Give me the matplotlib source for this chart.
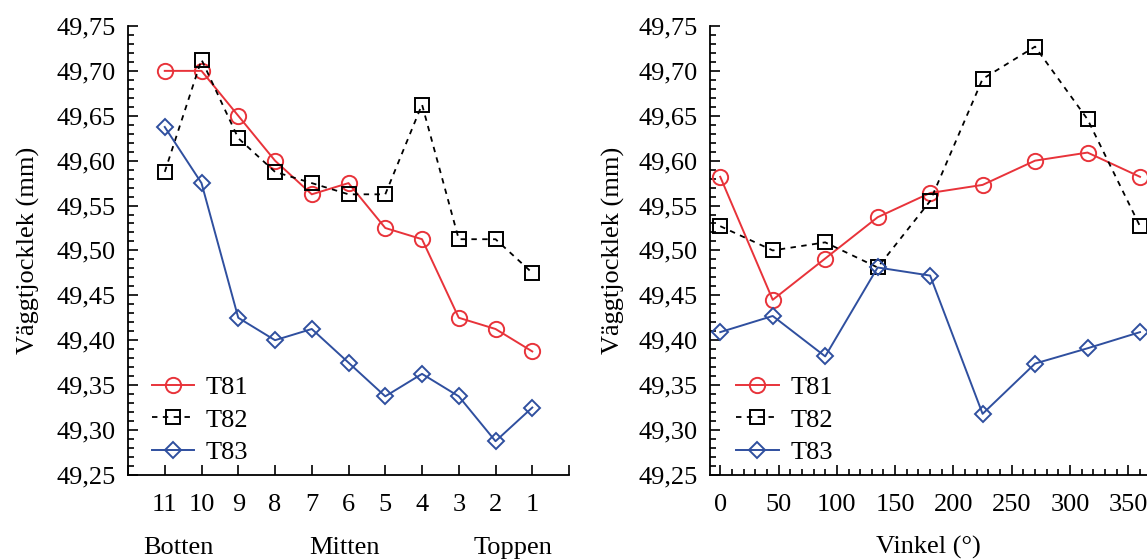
import matplotlib
matplotlib.use('Agg')
import matplotlib.pyplot as plt
from matplotlib.ticker import MultipleLocator, FuncFormatter
import matplotlib.transforms as mtransforms

plt.rcParams['font.family'] = ['Liberation Serif', 'DejaVu Serif']

# left panel: position along the pipe (11 = bottom ... 1 = top)
positions = [11, 10, 9, 8, 7, 6, 5, 4, 3, 2, 1]
pos_t81 = [49.700, 49.700, 49.650, 49.600, 49.5625, 49.575, 49.525, 49.5125, 49.425, 49.4125, 49.3875]
pos_t82 = [49.5875, 49.7125, 49.625, 49.5875, 49.575, 49.5625, 49.5625, 49.6625, 49.5125, 49.5125, 49.475]
pos_t83 = [49.6375, 49.575, 49.425, 49.400, 49.4125, 49.375, 49.3375, 49.3625, 49.3375, 49.2875, 49.325]
region_labels = ['Botten', 'Mitten', 'Toppen']
region_pos = [10.63, 6.1, 1.53]

# right panel: angle around the pipe
angles = [0, 45, 90, 135, 180, 225, 270, 315, 360]
ang_t81 = [49.582, 49.445, 49.491, 49.537, 49.564, 49.573, 49.600, 49.609, 49.582]
ang_t82 = [49.527, 49.500, 49.509, 49.481, 49.555, 49.691, 49.727, 49.646, 49.527]
ang_t83 = [49.409, 49.427, 49.382, 49.481, 49.472, 49.318, 49.374, 49.391, 49.409]

RED = '#e8333a'
BLUE = '#2f4f9f'
FS = 19


def comma_fmt(v, pos):
    return f'{v:.2f}'.replace('.', ',')


def draw_series(ax, x, t81, t82, t83):
    ax.plot(x, t81, color=RED, lw=1.4, marker='o', ms=11, mfc='none', mew=1.4, label='T81')
    ax.plot(x, t82, color='black', lw=1.3, ls=(0, (3, 3)), marker='s', ms=10, mfc='none', mew=1.4, label='T82')
    ax.plot(x, t83, color=BLUE, lw=1.4, marker='D', ms=8.5, mfc='none', mew=1.4, label='T83')


def style_axes(ax, leg_x):
    for side in ['top', 'right']:
        ax.spines[side].set_visible(False)
    for side in ['left', 'bottom']:
        ax.spines[side].set_linewidth(1.3)
    ax.set_ylim(49.25, 49.75)
    ax.yaxis.set_major_locator(MultipleLocator(0.05))
    ax.yaxis.set_minor_locator(MultipleLocator(0.01))
    ax.yaxis.set_major_formatter(FuncFormatter(comma_fmt))
    ax.tick_params(which='both', direction='in', labelsize=FS, width=1.2)
    ax.tick_params(which='major', length=7)
    ax.tick_params(which='minor', length=4)
    ax.tick_params(axis='y', pad=9)
    ax.tick_params(axis='x', pad=14)
    ax.set_ylabel('Väggtjocklek (mm)', fontsize=FS)
    ax.legend(loc='lower left', bbox_to_anchor=(leg_x, 0.0), frameon=False, fontsize=FS,
              handlelength=1.6, handletextpad=0.45, labelspacing=0.35, borderaxespad=0.0)


fig = plt.figure(figsize=(11.47, 5.6), dpi=100)

ax1 = fig.add_axes([0.1116, 0.152, 0.3845, 0.8016])
draw_series(ax1, positions, pos_t81, pos_t82, pos_t83)
style_axes(ax1, 0.03)
ax1.set_xlim(12, 0)
ax1.set_xticks(list(range(0, 12)) + [12])
ax1.set_xticklabels(['' if p in (0, 12) else str(p) for p in list(range(0, 12)) + [12]])
ax1.yaxis.set_label_coords(-0.2, 0.5)
trans = mtransforms.blended_transform_factory(ax1.transData, fig.transFigure)
for lab, p in zip(region_labels, region_pos):
    ax1.text(p, 1 - 548 / 560, lab, transform=trans, ha='center', va='center', fontsize=FS)

ax2 = fig.add_axes([0.6194, 0.152, 0.3806, 0.8016])
draw_series(ax2, angles, ang_t81, ang_t82, ang_t83)
style_axes(ax2, 0.035)
ax2.set_xlim(-8.4, 366)
ax2.xaxis.set_major_locator(MultipleLocator(50))
ax2.xaxis.set_minor_locator(MultipleLocator(10))
ax2.yaxis.set_label_coords(-0.195, 0.5)
ax2.set_xlabel('Vinkel (°)', fontsize=FS, labelpad=14)

fig.savefig('out.png', dpi=100)
